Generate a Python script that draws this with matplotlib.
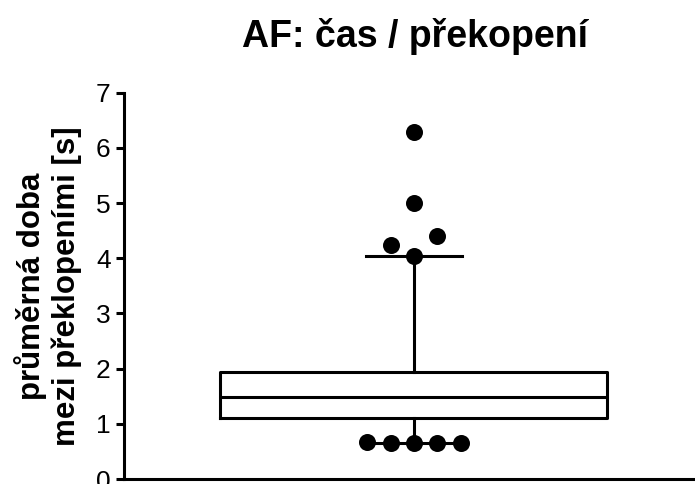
import matplotlib
matplotlib.use("Agg")
import matplotlib.pyplot as plt

plt.rcParams["font.family"] = ["Liberation Sans", "DejaVu Sans"]

# box summary (s)
q1 = 1.10
median = 1.49
q3 = 1.94
whisker_low = 0.66
whisker_high = 4.05

# individual points drawn on top
upper_points = [6.29, 5.01, 4.40, 4.24, 4.05]
lower_points = [0.67, 0.65, 0.65, 0.65, 0.66]

yticks = [0, 1, 2, 3, 4, 5, 6, 7]

title = "AF: čas / překopení"
ylabel = "průměrná doba\nmezi překlopeními [s]"

# horizontal slot of each point (dodging overlaps), one unit = one dot spacing
upper_slots = [0, 0, 1, -1, 0]
lower_slots = [-2, -1, 0, 1, 2]

fig = plt.figure(figsize=(6.95, 4.84), dpi=100)
ax = fig.add_axes([0.178, 0.0103, 0.822, 0.798])

lw = 2.2
stats = [{"med": median, "q1": q1, "q3": q3,
          "whislo": whisker_low, "whishi": whisker_high, "fliers": []}]
ax.bxp(stats, positions=[0], widths=16.6, capwidths=4.1, showfliers=False,
       boxprops=dict(color="black", linewidth=lw),
       medianprops=dict(color="black", linewidth=lw),
       whiskerprops=dict(color="black", linewidth=lw),
       capprops=dict(color="black", linewidth=lw))

ax.scatter(upper_slots, upper_points, s=150, color="black", zorder=5, linewidths=0)
ax.scatter(lower_slots, lower_points, s=150, color="black", zorder=5, linewidths=0)

ax.set_xlim(-12.45, 12.06)
ax.set_ylim(0, 7)
ax.set_yticks(yticks)
ax.set_xticks([])

for side in ["top", "right"]:
    ax.spines[side].set_visible(False)
for side in ["left", "bottom"]:
    ax.spines[side].set_linewidth(lw)
ax.tick_params(axis="y", labelsize=19, length=5.8, width=lw, pad=3.6)

ax.set_ylabel(ylabel, fontsize=22.5, fontweight="bold", linespacing=1.2)
ax.yaxis.set_label_coords(-0.073, 0.5)

fig.text(0.597, 0.903, title, fontsize=27, fontweight="bold",
         ha="center", va="baseline")

fig.savefig("out.png", dpi=100)
